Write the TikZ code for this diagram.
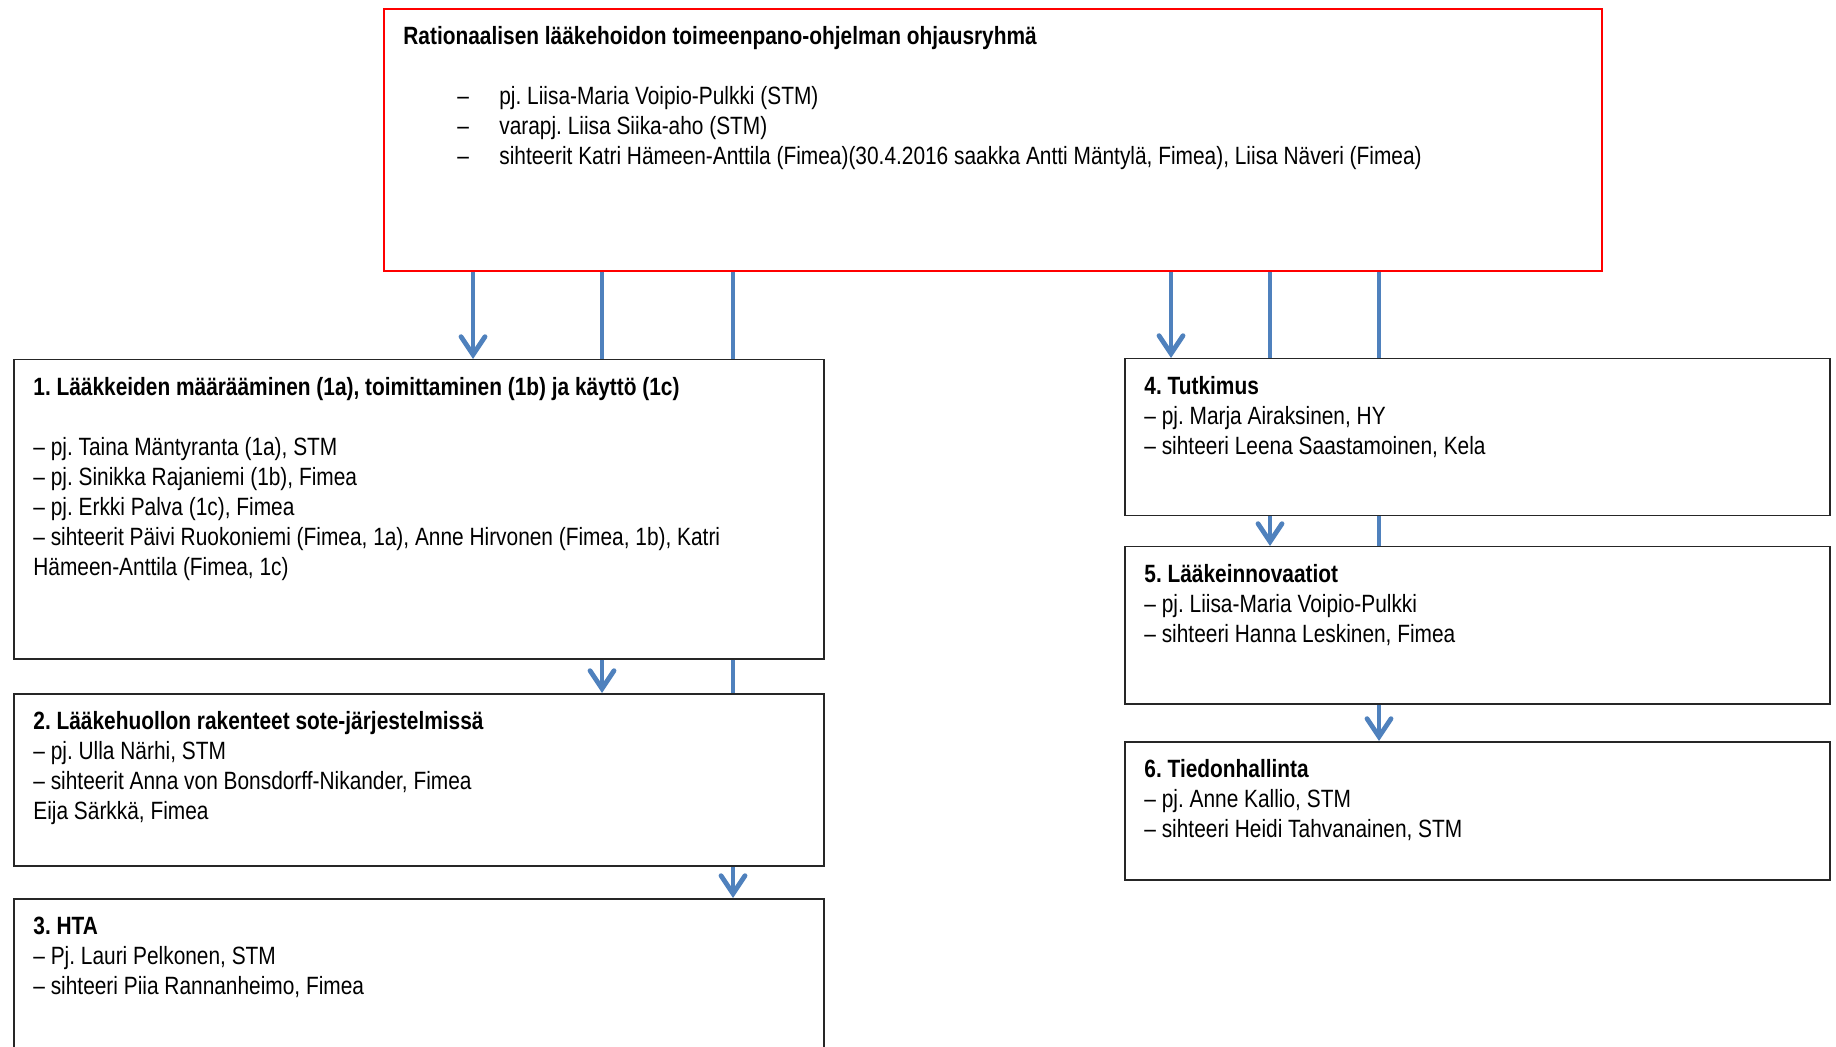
\documentclass[tikz,border=0pt]{standalone}
\usepackage{fontspec}
\setmainfont{Liberation Sans}[FakeStretch=0.835]
\usetikzlibrary{arrows.meta}
\definecolor{linkblue}{RGB}{79,129,189}
\definecolor{framered}{RGB}{255,0,0}
\tikzset{
  grp/.style={draw=black!85, line width=0.75pt, anchor=north west, inner sep=0pt},
  grptext/.style={anchor=north west, inner sep=0pt, align=left, font=\fontsize{12.5}{15}\selectfont\frenchspacing},
  link/.style={draw=linkblue, line width=2.4pt},
  linkarr/.style={link, -{Straight Barb[length=9pt,width=12pt,line cap=round]}},
}
\newcommand{\itm}{\hspace*{27pt}\makebox[21pt][l]{–}}
\newcommand{\fst}{\rule{0pt}{12pt}}
\begin{document}
\begin{tikzpicture}[x=0.5pt,y=-0.5pt]
  \useasboundingbox (0,0) rectangle (1836,1047);
  \clip (0,0) rectangle (1836,1047);
  % ohjausryhma
  \node[grp, draw=framered, line width=1pt, minimum width=609pt, minimum height=131pt] (ohj) at (383,8) {};
  \node[grptext] (ohjtxt) at ([shift={(20,12)}]ohj.north west) {\textbf{\fst Rationaalisen lääkehoidon toimeenpano-ohjelman ohjausryhmä}\\[15pt]
    \itm pj. Liisa-Maria Voipio-Pulkki (STM)\\
    \itm varapj. Liisa Siika-aho (STM)\\
    \itm sihteerit Katri Hämeen-Anttila (Fimea)(30.4.2016 saakka Antti Mäntylä, Fimea), Liisa Näveri (Fimea)};
  % left column
  \node[grp, minimum width=405pt, minimum height=149.5pt] (b1) at (13,359) {};
  \node[grptext] (b1txt) at ([shift={(20,12)}]b1.north west) {\textbf{\fst 1. Lääkkeiden määrääminen (1a), toimittaminen (1b) ja käyttö (1c)}\\[15pt]
    – pj. Taina Mäntyranta (1a), STM\\
    – pj. Sinikka Rajaniemi (1b), Fimea\\
    – pj. Erkki Palva (1c), Fimea\\
    – sihteerit Päivi Ruokoniemi (Fimea, 1a), Anne Hirvonen (Fimea, 1b), Katri\\
    Hämeen-Anttila (Fimea, 1c)};
  \node[grp, minimum width=405pt, minimum height=86pt] (b2) at (13,693) {};
  \node[grptext] (b2txt) at ([shift={(20,12)}]b2.north west) {\textbf{\fst 2. Lääkehuollon rakenteet sote-järjestelmissä}\\
    – pj. Ulla Närhi, STM\\
    – sihteerit Anna von Bonsdorff-Nikander, Fimea\\
    Eija Särkkä, Fimea};
  \node[grp, minimum width=405pt, minimum height=90pt] (b3) at (13,898) {};
  \node[grptext] (b3txt) at ([shift={(20,12)}]b3.north west) {\textbf{\fst 3. HTA}\\
    – Pj. Lauri Pelkonen, STM\\
    – sihteeri Piia Rannanheimo, Fimea};
  % right column
  \node[grp, minimum width=352.5pt, minimum height=78.5pt] (b4) at (1124,358) {};
  \node[grptext] (b4txt) at ([shift={(20,12)}]b4.north west) {\textbf{\fst 4. Tutkimus}\\
    – pj. Marja Airaksinen, HY\\
    – sihteeri Leena Saastamoinen, Kela};
  \node[grp, minimum width=352.5pt, minimum height=78.5pt] (b5) at (1124,546) {};
  \node[grptext] (b5txt) at ([shift={(20,12)}]b5.north west) {\textbf{\fst 5. Lääkeinnovaatiot}\\
    – pj. Liisa-Maria Voipio-Pulkki\\
    – sihteeri Hanna Leskinen, Fimea};
  \node[grp, minimum width=352.5pt, minimum height=69pt] (b6) at (1124,741) {};
  \node[grptext] (b6txt) at ([shift={(20,12)}]b6.north west) {\textbf{\fst 6. Tiedonhallinta}\\
    – pj. Anne Kallio, STM\\
    – sihteeri Heidi Tahvanainen, STM};
  % connectors
  \coordinate (xa) at (473,0);
  \coordinate (xb) at (602,0);
  \coordinate (xc) at (733,0);
  \coordinate (xd) at (1171,0);
  \coordinate (xe) at (1270,0);
  \coordinate (xf) at (1379,0);
  \draw[linkarr] (ohj.south -| xa) -- (b1.north -| xa);
  \draw[link] (ohj.south -| xb) -- (b1.north -| xb);
  \draw[link] (ohj.south -| xc) -- (b1.north -| xc);
  \draw[linkarr] (b1.south -| xb) -- (b2.north -| xb);
  \draw[link] (b1.south -| xc) -- (b2.north -| xc);
  \draw[linkarr] (b2.south -| xc) -- (b3.north -| xc);
  \draw[linkarr] (ohj.south -| xd) -- (b4.north -| xd);
  \draw[link] (ohj.south -| xe) -- (b4.north -| xe);
  \draw[link] (ohj.south -| xf) -- (b4.north -| xf);
  \draw[linkarr] (b4.south -| xe) -- (b5.north -| xe);
  \draw[link] (b4.south -| xf) -- (b5.north -| xf);
  \draw[linkarr] (b5.south -| xf) -- (b6.north -| xf);
\end{tikzpicture}
\end{document}
